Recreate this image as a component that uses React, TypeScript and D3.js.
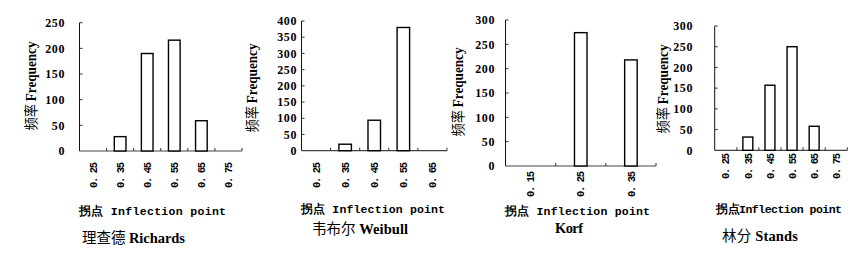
import React from "react";
import * as d3 from "d3";

// tick labels / categories for each panel
const richardsCats = ["0. 25", "0. 35", "0. 45", "0. 55", "0. 65", "0. 75"];
const weibullCats = ["0. 25", "0. 35", "0. 45", "0. 55", "0. 65"];
const korfCats = ["0. 15", "0. 25", "0. 35"];
const standsCats = ["0. 25", "0. 35", "0. 45", "0. 55", "0. 65", "0. 75"];

// frequencies
const richardsVals = [0, 28, 190, 216, 59, 0];
const weibullVals = [0, 20, 94, 380, 0];
const korfVals = [0, 274, 218];
const standsVals = [0, 32, 157, 250, 58, 0];

const richardsTicks = [0, 50, 100, 150, 200, 250];
const weibullTicks = [0, 50, 100, 150, 200, 250, 300, 350, 400];
const korfTicks = [0, 50, 100, 150, 200, 250, 300];
const standsTicks = [0, 50, 100, 150, 200, 250, 300];

const serif = "'Liberation Serif', 'DejaVu Serif', serif";
const mono = "'Liberation Mono', 'DejaVu Sans Mono', monospace";
const cjk = "'Noto Sans CJK SC'";

type PanelProps = {
  cats: string[];
  vals: number[];
  ticks: number[];
  x0: number;
  x1: number;
  y0: number;
  y1: number;
  barFrac: number;
  tickLabelX: number;
  yLabelX: number;
  yLabelY: number;
  xTickY: number;
  xLabel: string;
  xLabelX0: number;
  xLabelX1: number;
  xLabelY: number;
  title: string;
  titleX: number;
  titleY: number;
  titleW: number;
};

const Panel = (p: PanelProps) => {
  const x = d3.scaleBand().domain(p.cats).range([p.x0, p.x1]).padding(0);
  const y = d3
    .scaleLinear()
    .domain([0, d3.max(p.ticks) as number])
    .range([p.y0, p.y1]);
  const bw = x.bandwidth() * p.barFrac;
  const boundaries = p.cats.map((c) => (x(c) as number) + x.bandwidth());
  const [cn, en] = p.title.split(/\s+/);
  return (
    <g>
      {/* axes */}
      <line x1={p.x0} x2={p.x0} y1={p.y1} y2={p.y0} stroke="#111" strokeWidth={1} />
      <line x1={p.x0} x2={p.x1} y1={p.y0} y2={p.y0} stroke="#444" strokeWidth={1.2} />
      {p.ticks.map((t) => (
        <g key={t}>
          {t > 0 && (
            <line x1={p.x0} x2={p.x0 + 3} y1={y(t)} y2={y(t)} stroke="#333" />
          )}
          <text
            x={p.tickLabelX}
            y={y(t)}
            dy="0.35em"
            textAnchor="end"
            fontFamily={serif}
            fontWeight="bold"
            fontSize={12}
            letterSpacing={0.6}
          >
            {t}
          </text>
        </g>
      ))}
      {boundaries.map((b, i) => (
        <line key={i} x1={b} x2={b} y1={p.y0} y2={p.y0 - 3} stroke="#333" />
      ))}
      {/* bars */}
      {p.cats.map((c, i) =>
        p.vals[i] > 0 ? (
          <rect
            key={c}
            x={(x(c) as number) + (x.bandwidth() - bw) / 2}
            y={y(p.vals[i])}
            width={bw}
            height={p.y0 - y(p.vals[i])}
            fill="white"
            stroke="#000"
            strokeWidth={1.4}
          />
        ) : null
      )}
      {/* x tick labels, rotated */}
      {p.cats.map((c) => {
        const cx = (x(c) as number) + x.bandwidth() / 2;
        return (
          <text
            key={c}
            transform={`translate(${cx},${p.xTickY}) rotate(-90)`}
            textAnchor="middle"
            dy="0.35em"
            fontFamily={mono}
            fontWeight="bold"
            fontSize={10.5}
            textLength={26}
            lengthAdjust="spacing"
          >
            {c}
          </text>
        );
      })}
      {/* y title */}
      <text
        transform={`translate(${p.yLabelX},${p.yLabelY}) rotate(-90)`}
        textAnchor="middle"
        dy="0.35em"
        fontSize={14}
        fontWeight="bold"
        textLength={89}
        lengthAdjust="spacingAndGlyphs"
      >
        <tspan fontFamily={cjk} fontWeight="normal">频率 </tspan>
        <tspan fontFamily={serif}>Frequency</tspan>
      </text>
      {/* x title */}
      <text
        x={p.xLabelX0}
        y={p.xLabelY}
        dy="0.35em"
        fontFamily={mono}
        fontWeight="bold"
        fontSize={11.5}
        textLength={p.xLabelX1 - p.xLabelX0}
        lengthAdjust="spacing"
      >
        {p.xLabel}
      </text>
      {/* chart title */}
      <text
        x={p.titleX}
        y={p.titleY}
        dy="0.35em"
        textAnchor="middle"
        fontSize={14.5}
        textLength={p.titleW}
        lengthAdjust="spacing"
      >
        {en ? (
          <>
            <tspan fontFamily={cjk}>{cn}</tspan>
            <tspan fontFamily={serif} fontWeight="bold">{"  " + en}</tspan>
          </>
        ) : (
          <tspan fontFamily={serif} fontWeight="bold">{cn}</tspan>
        )}
      </text>
    </g>
  );
};

const App = () => {
  return (
    <svg
      width={865}
      height={258}
      style={{ position: "absolute", left: 0, top: 0, background: "white" }}
    >
      <Panel
        cats={richardsCats}
        vals={richardsVals}
        ticks={richardsTicks}
        x0={79.5}
        x1={242}
        y0={151}
        y1={22.7}
        barFrac={0.43}
        tickLabelX={65}
        yLabelX={31}
        yLabelY={86}
        xTickY={175}
        xLabel="拐点 Inflection point"
        xLabelX0={79}
        xLabelX1={226}
        xLabelY={211}
        title="理查德 Richards"
        titleX={133.5}
        titleY={238}
        titleW={103}
      />
      <Panel
        cats={weibullCats}
        vals={weibullVals}
        ticks={weibullTicks}
        x0={301.5}
        x1={447}
        y0={150.7}
        y1={21}
        barFrac={0.43}
        tickLabelX={297}
        yLabelX={251.7}
        yLabelY={88}
        xTickY={175}
        xLabel="拐点 Inflection point"
        xLabelX0={301}
        xLabelX1={445}
        xLabelY={209}
        title="韦布尔 Weibull"
        titleX={360}
        titleY={229}
        titleW={96}
      />
      <Panel
        cats={korfCats}
        vals={korfVals}
        ticks={korfTicks}
        x0={505.5}
        x1={656}
        y0={166}
        y1={20}
        barFrac={0.25}
        tickLabelX={495}
        yLabelX={458}
        yLabelY={92}
        xTickY={184}
        xLabel="拐点 Inflection point"
        xLabelX0={505}
        xLabelX1={650}
        xLabelY={211}
        title="Korf"
        titleX={569}
        titleY={228}
        titleW={28}
      />
      <Panel
        cats={standsCats}
        vals={standsVals}
        ticks={standsTicks}
        x0={714.7}
        x1={847.3}
        y0={150.3}
        y1={26}
        barFrac={0.45}
        tickLabelX={693}
        yLabelX={663}
        yLabelY={89}
        xTickY={166}
        xLabel="拐点Inflection point"
        xLabelX0={716}
        xLabelX1={842}
        xLabelY={209}
        title="林分 Stands"
        titleX={760}
        titleY={236}
        titleW={76}
      />
    </svg>
  );
};

export default App;
